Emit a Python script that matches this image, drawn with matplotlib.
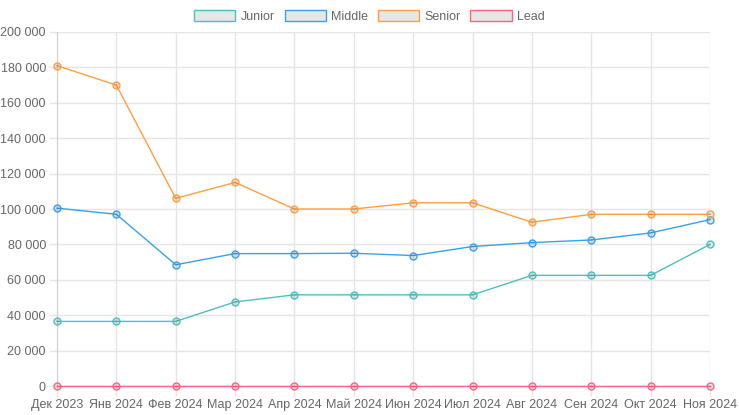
import matplotlib.pyplot as plt
from matplotlib.patches import Patch
from matplotlib.ticker import FuncFormatter, MultipleLocator

months = ['Дек 2023', 'Янв 2024', 'Фев 2024', 'Мар 2024', 'Апр 2024', 'Май 2024',
          'Июн 2024', 'Июл 2024', 'Авг 2024', 'Сен 2024', 'Окт 2024', 'Ноя 2024']
junior = [36500, 36500, 36500, 47500, 51500, 51500, 51500, 51500, 62500, 62500, 62500, 80000]
middle = [100500, 97000, 68500, 74800, 74800, 75000, 73700, 78800, 81000, 82500, 86500, 94000]
senior = [181000, 170000, 106000, 115000, 100000, 100000, 103500, 103500, 92500, 97000, 97000, 97000]
lead = [0] * 12

series = [('Junior', junior, '#4bc0c0'),
          ('Middle', middle, '#36a2eb'),
          ('Senior', senior, '#ff9f40'),
          ('Lead', lead, '#ff6384')]

plt.rcParams['font.family'] = ['Liberation Sans', 'DejaVu Sans']
text_col = '#666666'
grid_col = '#e5e5e5'

fig = plt.figure(figsize=(7.39, 4.15), dpi=100)
ax = fig.add_axes([57 / 739, 29 / 415, 653 / 739, 354 / 415])

x = list(range(len(months)))
for name, vals, col in series:
    ax.plot(x, vals, color=col, lw=1, marker='o', markersize=5,
            markerfacecolor=(0, 0, 0, 0.1), markeredgecolor=col, markeredgewidth=1,
            clip_on=False, zorder=3)

ax.set_xlim(0, len(months) - 1)
ax.set_ylim(0, 200000)
ax.set_xticks(x)
ax.set_xticklabels(months)
ax.yaxis.set_major_locator(MultipleLocator(20000))
ax.yaxis.set_major_formatter(FuncFormatter(lambda v, p: f'{int(v):,}'.replace(',', ' ')))

ax.grid(True, color=grid_col, lw=1)
ax.set_axisbelow(True)
for s in ax.spines.values():
    s.set_visible(False)
ax.spines['left'].set_visible(True)
ax.spines['left'].set_color('#d0d0d0')
ax.spines['bottom'].set_visible(True)
ax.spines['bottom'].set_color('#d0d0d0')
ax.tick_params(axis='both', colors=grid_col, labelcolor=text_col, labelsize=9, width=1)
ax.tick_params(axis='y', length=6, pad=2)
ax.tick_params(axis='x', length=7, pad=2)

handles = [Patch(facecolor='#e6e6e6', edgecolor=col, lw=1, label=name) for name, _, col in series]
leg = fig.legend(handles=handles, loc='upper center', bbox_to_anchor=(0.5, 1.0), ncol=4,
                 frameon=False, fontsize=9, handlelength=3.3, handleheight=0.95,
                 columnspacing=0.75, handletextpad=0.45, borderaxespad=0.4)
for t in leg.get_texts():
    t.set_color(text_col)

fig.savefig('out.png', dpi=100)
